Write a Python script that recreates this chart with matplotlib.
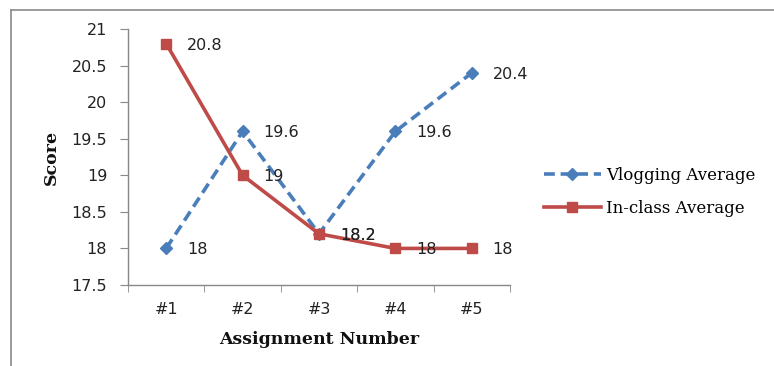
import matplotlib
matplotlib.use("Agg")
import matplotlib.pyplot as plt
from matplotlib.lines import Line2D

# Dane
assignments = ["#1", "#2", "#3", "#4", "#5"]
vlogging_avg = [18, 19.6, 18.2, 19.6, 20.4]
inclass_avg = [20.8, 19, 18.2, 18, 18]

blue = "#4A7EBB"
red = "#BE4B48"
serif = "DejaVu Serif"

fig = plt.figure(figsize=(7.74, 3.66), dpi=100)
ax = fig.add_axes([128 / 774, 1 - 285 / 366, 382 / 774, 256 / 366])

x = list(range(1, len(assignments) + 1))
ax.plot(x, vlogging_avg, color=blue, lw=2.6, ls=(0, (3, 1.6)), marker="D",
        ms=6, mfc=blue, mec=blue, label="Vlogging Average", zorder=3)
ax.plot(x, inclass_avg, color=red, lw=2.6, marker="s", ms=7.5,
        mfc=red, mec=red, label="In-class Average", zorder=4)

# etykiety wartości po prawej stronie punktów
for xi, v in zip(x, vlogging_avg):
    ax.annotate(f"{v:g}", (xi, v), xytext=(15, -1), textcoords="offset points",
                va="center", ha="left", fontsize=11.5, color="#222222", zorder=5)
for xi, v in zip(x, inclass_avg):
    ax.annotate(f"{v:g}", (xi, v), xytext=(15, -1), textcoords="offset points",
                va="center", ha="left", fontsize=11.5, color="#222222", zorder=5)

ax.set_xlim(0.5, 5.5)
ax.set_ylim(17.5, 21)
ax.set_yticks([17.5, 18, 18.5, 19, 19.5, 20, 20.5, 21])
ax.set_yticklabels(["17.5", "18", "18.5", "19", "19.5", "20", "20.5", "21"])
ax.set_xticks(x)
ax.set_xticklabels(assignments)
ax.set_xticks([i + 0.5 for i in range(0, 6)], minor=True)
ax.tick_params(axis="x", which="major", length=0, pad=12, labelsize=11.5, labelcolor="#222222")
ax.tick_params(axis="x", which="minor", length=5, color="#888888", direction="out")
ax.tick_params(axis="y", length=6, color="#888888", pad=9, labelsize=11.5, labelcolor="#222222")

for s in ["top", "right"]:
    ax.spines[s].set_visible(False)
for s in ["left", "bottom"]:
    ax.spines[s].set_color("#888888")
    ax.spines[s].set_linewidth(1.0)

ax.set_xlabel("Assignment Number", family=serif, fontweight="bold", fontsize=12.5,
              labelpad=10, color="#111111")
ax.set_ylabel("Score", family=serif, fontweight="bold", fontsize=12.5,
              labelpad=8, color="#111111")

ax.legend(loc="center left", bbox_to_anchor=(529 / 774, 1 - 192 / 366),
          bbox_transform=fig.transFigure, frameon=False, handlelength=3.4,
          handletextpad=0.3, labelspacing=0.95, prop={"family": serif, "size": 12})

# rama wokół wykresu
fig.add_artist(Line2D([10.5 / 774, 1], [1 - 9.5 / 366] * 2, transform=fig.transFigure,
                      color="#8a8a8a", lw=1.2))
fig.add_artist(Line2D([10.5 / 774] * 2, [1 - 9.5 / 366, 0], transform=fig.transFigure,
                      color="#8a8a8a", lw=1.2))

fig.savefig("out.png", dpi=100)
